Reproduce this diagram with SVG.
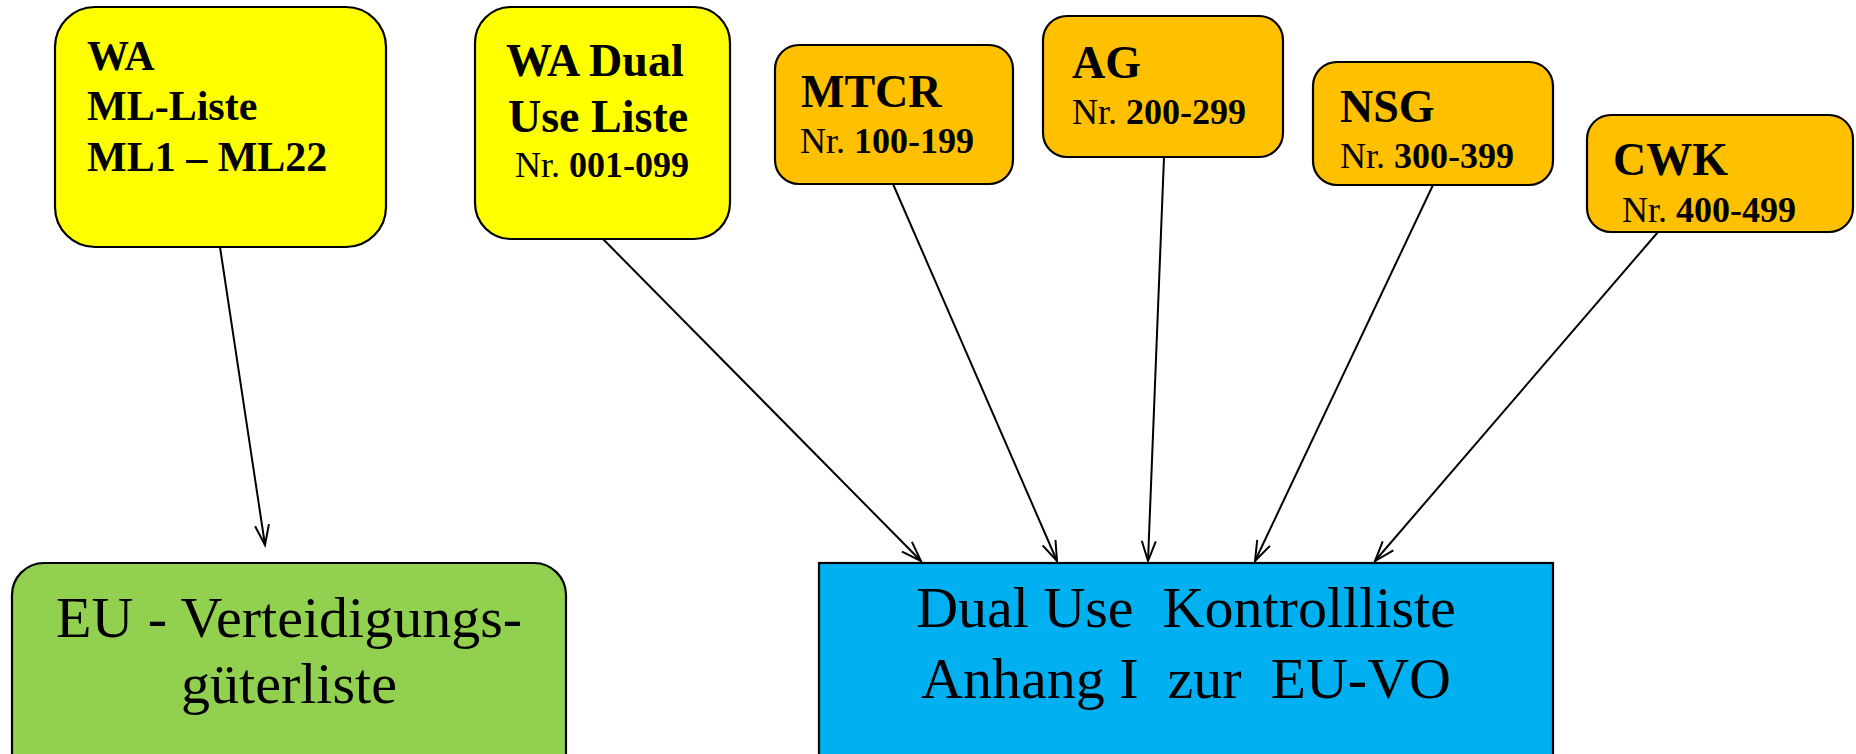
<svg xmlns="http://www.w3.org/2000/svg" width="1856" height="754" viewBox="0 0 1856 754">
<defs>
<marker id="arr" markerUnits="userSpaceOnUse" markerWidth="24" markerHeight="16" viewBox="0 0 24 16" refX="21" refY="8" orient="auto">
<path d="M1,1 L21,8 L1,15" fill="none" stroke="#000" stroke-width="2"/>
</marker>
<style>
.box{stroke:#000;stroke-width:2.2}
.y{fill:#FFFF00}
.o{fill:#FFC000}
.g{fill:#92D050}
.b{fill:#00B0F0}
text{font-family:"Liberation Serif","Times New Roman",serif;fill:#000;white-space:pre}
.h{font-weight:bold;font-size:46px}
.wa{font-weight:bold;font-size:42px}
.nr{font-size:36px}
.nb{font-weight:bold}
.big{font-size:58px}
.c{stroke:#000;stroke-width:2;fill:none;marker-end:url(#arr)}
</style>
</defs>
<rect width="1856" height="754" fill="#fff"/>
<g id="connectors">
<line class="c" x1="220" y1="247" x2="265" y2="545"/>
<line class="c" x1="603" y1="239" x2="921" y2="561"/>
<line class="c" x1="893" y1="184" x2="1057" y2="561"/>
<line class="c" x1="1164" y1="157" x2="1148" y2="561"/>
<line class="c" x1="1433" y1="185" x2="1255" y2="561"/>
<line class="c" x1="1658" y1="232" x2="1375" y2="561"/>
</g>
<g id="wa-ml">
<rect class="box y" x="55" y="7" width="331" height="240" rx="40"/>
<text class="wa" x="87" y="70">WA</text>
<text class="wa" x="87" y="120">ML-Liste</text>
<text class="wa" x="87" y="171">ML1 – ML22</text>
</g>
<g id="wa-dual">
<rect class="box y" x="475" y="7" width="255" height="232" rx="36"/>
<text class="h" x="506" y="76">WA Dual</text>
<text class="h" x="508" y="132">Use Liste</text>
<text class="nr" x="515" y="177">Nr. <tspan class="nb">001-099</tspan></text>
</g>
<g id="mtcr">
<rect class="box o" x="775" y="45" width="238" height="139" rx="24"/>
<text class="h" x="801" y="107">MTCR</text>
<text class="nr" x="800" y="153">Nr. <tspan class="nb">100-199</tspan></text>
</g>
<g id="ag">
<rect class="box o" x="1043" y="16" width="240" height="141" rx="24"/>
<text class="h" x="1072" y="78">AG</text>
<text class="nr" x="1072" y="124">Nr. <tspan class="nb">200-299</tspan></text>
</g>
<g id="nsg">
<rect class="box o" x="1313" y="62" width="240" height="123" rx="24"/>
<text class="h" x="1340" y="122">NSG</text>
<text class="nr" x="1340" y="168">Nr. <tspan class="nb">300-399</tspan></text>
</g>
<g id="cwk">
<rect class="box o" x="1587" y="115" width="266" height="117" rx="24"/>
<text class="h" x="1613" y="175">CWK</text>
<text class="nr" x="1622" y="222">Nr. <tspan class="nb">400-499</tspan></text>
</g>
<g id="eu-verteidigung">
<rect class="box g" x="12" y="563" width="554" height="230" rx="32"/>
<text class="big" x="289" y="637" text-anchor="middle">EU - Verteidigungs-</text>
<text class="big" x="289" y="703" text-anchor="middle">güterliste</text>
</g>
<g id="dual-use">
<rect class="box b" x="819" y="563" width="734" height="230"/>
<text class="big" x="1186" y="627" text-anchor="middle">Dual Use  Kontrollliste</text>
<text class="big" x="1186" y="698" text-anchor="middle">Anhang I  zur  EU-VO</text>
</g>
</svg>
